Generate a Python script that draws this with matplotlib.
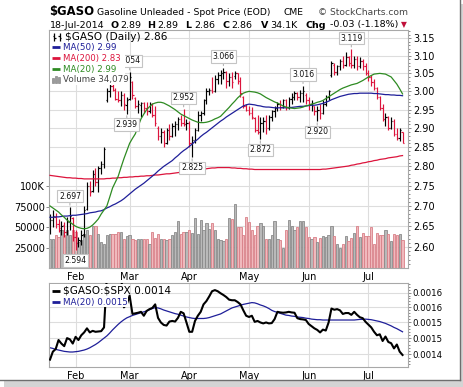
import numpy as np
import pandas as pd
import matplotlib
matplotlib.use("Agg")
import matplotlib.pyplot as plt
from matplotlib.patches import Rectangle
from matplotlib.lines import Line2D
from matplotlib.ticker import FixedLocator, FixedFormatter, NullFormatter

plt.rcParams['font.family'] = ['DejaVu Sans']

# ---------------- data ----------------
holidays = ["2014-02-17", "2014-04-18", "2014-05-26", "2014-07-04"]
dates = pd.bdate_range("2014-01-21", "2014-07-18")
dates = dates[~dates.isin(pd.to_datetime(holidays))]
month_labels = ["Feb", "Mar", "Apr", "May", "Jun", "Jul"]
month_nums = [2, 3, 4, 5, 6, 7]

opens = [2.650, 2.665, 2.672, 2.655, 2.642, 2.652, 2.635, 2.660, 2.670, 2.625,
         2.610, 2.615, 2.632, 2.692, 2.750, 2.738, 2.780, 2.760, 2.795, 2.805,
         2.975, 3.000, 3.015, 3.005, 2.980, 2.975, 2.990, 2.962, 2.978, 3.025,
         2.982, 2.960, 2.962, 2.968, 2.955, 2.945, 2.965, 2.935, 2.900, 2.880,
         2.890, 2.862, 2.895, 2.880, 2.905, 2.912, 2.925, 2.915, 2.910, 2.915,
         2.860, 2.870, 2.895, 2.935, 2.940, 2.975, 3.000, 3.005, 3.000, 3.035,
         3.045, 3.050, 3.055, 3.030, 3.040, 3.042, 3.050, 3.030, 2.985, 2.960,
         2.950, 2.940, 2.928, 2.895, 2.890, 2.915, 2.920, 2.900, 2.930, 2.945,
         2.955, 2.965, 2.958, 2.975, 2.955, 2.980, 2.985, 2.995, 2.985, 2.995,
         2.990, 2.975, 2.965, 2.960, 2.945, 2.950, 2.940, 2.965, 2.985, 3.045,
         3.075, 3.055, 3.070, 3.085, 3.075, 3.095, 3.080, 3.075, 3.090, 3.070,
         3.085, 3.070, 3.050, 3.040, 3.025, 3.010, 2.985, 2.955, 2.925, 2.930,
         2.900, 2.920, 2.885, 2.875, 2.890]
highs = [2.680, 2.690, 2.682, 2.668, 2.662, 2.660, 2.672, 2.697, 2.672, 2.640,
         2.625, 2.640, 2.700, 2.760, 2.762, 2.790, 2.795, 2.800, 2.815, 2.850,
         3.010, 3.030, 3.040, 3.010, 3.000, 3.000, 2.995, 2.985, 3.054, 3.030,
         2.985, 2.975, 2.970, 2.972, 2.970, 2.970, 2.968, 2.960, 2.905, 2.900,
         2.895, 2.900, 2.910, 2.915, 2.920, 2.930, 2.935, 2.952, 2.925, 2.920,
         2.880, 2.900, 2.945, 2.945, 2.980, 3.010, 3.010, 3.040, 3.045, 3.055,
         3.060, 3.066, 3.058, 3.050, 3.055, 3.058, 3.052, 3.040, 2.988, 2.965,
         2.960, 2.958, 2.930, 2.935, 2.930, 2.930, 2.935, 2.935, 2.950, 2.960,
         2.970, 2.975, 2.980, 2.978, 2.985, 2.995, 3.000, 2.998, 3.005, 3.016,
         2.995, 2.985, 2.975, 2.960, 2.960, 2.965, 2.975, 2.990, 3.005, 3.085,
         3.080, 3.075, 3.090, 3.100, 3.110, 3.100, 3.119, 3.100, 3.100, 3.095,
         3.090, 3.080, 3.060, 3.045, 3.035, 3.012, 2.988, 2.965, 2.940, 2.932,
         2.930, 2.925, 2.900, 2.900, 2.890]
lows = [2.632, 2.648, 2.645, 2.635, 2.628, 2.625, 2.630, 2.640, 2.615, 2.594,
        2.600, 2.605, 2.625, 2.690, 2.725, 2.735, 2.750, 2.735, 2.780, 2.795,
        2.970, 2.985, 3.000, 2.975, 2.970, 2.960, 2.950, 2.939, 2.975, 2.980,
        2.955, 2.940, 2.930, 2.940, 2.935, 2.942, 2.930, 2.905, 2.870, 2.862,
        2.850, 2.858, 2.870, 2.878, 2.880, 2.895, 2.905, 2.905, 2.895, 2.850,
        2.825, 2.860, 2.892, 2.920, 2.935, 2.965, 2.990, 2.995, 2.998, 3.020,
        3.020, 3.035, 3.010, 3.015, 3.010, 3.035, 3.020, 2.985, 2.955, 2.945,
        2.935, 2.925, 2.890, 2.885, 2.872, 2.890, 2.885, 2.895, 2.920, 2.930,
        2.945, 2.950, 2.955, 2.950, 2.952, 2.965, 2.975, 2.975, 2.970, 2.970,
        2.965, 2.950, 2.945, 2.935, 2.920, 2.925, 2.938, 2.960, 2.975, 3.040,
        3.045, 3.045, 3.060, 3.065, 3.072, 3.070, 3.065, 3.065, 3.060, 3.065,
        3.060, 3.045, 3.030, 3.015, 3.005, 2.980, 2.950, 2.920, 2.905, 2.895,
        2.898, 2.880, 2.870, 2.865, 2.860]
closes = [2.665, 2.675, 2.655, 2.645, 2.650, 2.635, 2.660, 2.675, 2.625, 2.610,
          2.618, 2.630, 2.690, 2.750, 2.735, 2.780, 2.760, 2.795, 2.805, 2.845,
          3.000, 3.015, 3.005, 2.980, 2.975, 2.990, 2.965, 2.975, 3.040, 2.990,
          2.960, 2.965, 2.968, 2.955, 2.945, 2.965, 2.935, 2.915, 2.880, 2.890,
          2.860, 2.895, 2.880, 2.905, 2.912, 2.925, 2.915, 2.910, 2.915, 2.860,
          2.870, 2.895, 2.935, 2.940, 2.975, 3.000, 3.005, 3.000, 3.035, 3.045,
          3.050, 3.055, 3.030, 3.040, 3.025, 3.050, 3.030, 2.995, 2.960, 2.950,
          2.940, 2.930, 2.895, 2.890, 2.915, 2.920, 2.900, 2.930, 2.945, 2.955,
          2.965, 2.958, 2.975, 2.955, 2.980, 2.985, 2.995, 2.985, 2.995, 3.000,
          2.975, 2.965, 2.968, 2.945, 2.950, 2.940, 2.965, 2.985, 3.000, 3.080,
          3.055, 3.070, 3.085, 3.075, 3.095, 3.080, 3.075, 3.090, 3.070, 3.085,
          3.070, 3.050, 3.040, 3.025, 3.010, 2.985, 2.955, 2.925, 2.930, 2.900,
          2.920, 2.885, 2.875, 2.895, 2.860]

ma20 = [2.700, 2.695, 2.690, 2.685, 2.678, 2.672, 2.665, 2.660, 2.655, 2.650,
        2.647, 2.645, 2.644, 2.645, 2.648, 2.653, 2.660, 2.668, 2.680, 2.690,
        2.700, 2.722, 2.745, 2.760, 2.775, 2.798, 2.820, 2.840, 2.860, 2.873,
        2.885, 2.905, 2.925, 2.938, 2.950, 2.958, 2.965, 2.968, 2.970, 2.970,
        2.968, 2.964, 2.960, 2.955, 2.950, 2.944, 2.938, 2.934, 2.930, 2.926,
        2.922, 2.919, 2.916, 2.915, 2.915, 2.916, 2.918, 2.921, 2.925, 2.928,
        2.932, 2.940, 2.948, 2.956, 2.965, 2.973, 2.982, 2.989, 2.995, 2.998,
        3.000, 2.999, 2.998, 2.996, 2.993, 2.988, 2.983, 2.979, 2.975, 2.971,
        2.968, 2.964, 2.960, 2.957, 2.955, 2.954, 2.953, 2.954, 2.955, 2.957,
        2.960, 2.962, 2.965, 2.967, 2.970, 2.972, 2.975, 2.980, 2.985, 2.990,
        2.995, 3.000, 3.005, 3.009, 3.012, 3.015, 3.018, 3.020, 3.022, 3.026,
        3.030, 3.035, 3.040, 3.044, 3.048, 3.049, 3.050, 3.049, 3.048, 3.044,
        3.040, 3.030, 3.020, 3.007, 2.993]
ma50 = [2.672, 2.672, 2.673, 2.673, 2.674, 2.675, 2.675, 2.676, 2.677, 2.677,
        2.678, 2.679, 2.680, 2.681, 2.683, 2.684, 2.685, 2.687, 2.688, 2.691,
        2.695, 2.698, 2.702, 2.705, 2.709, 2.713, 2.718, 2.724, 2.730, 2.736,
        2.742, 2.747, 2.752, 2.757, 2.763, 2.769, 2.775, 2.781, 2.788, 2.794,
        2.800, 2.805, 2.810, 2.815, 2.822, 2.828, 2.835, 2.841, 2.846, 2.852,
        2.858, 2.865, 2.871, 2.878, 2.884, 2.889, 2.895, 2.901, 2.907, 2.913,
        2.919, 2.924, 2.930, 2.935, 2.940, 2.945, 2.950, 2.955, 2.960, 2.963,
        2.965, 2.964, 2.963, 2.961, 2.960, 2.958, 2.957, 2.957, 2.956, 2.955,
        2.955, 2.955, 2.955, 2.955, 2.956, 2.956, 2.957, 2.958, 2.959, 2.959,
        2.960, 2.961, 2.962, 2.962, 2.963, 2.965, 2.967, 2.970, 2.973, 2.977,
        2.980, 2.983, 2.986, 2.988, 2.990, 2.992, 2.993, 2.994, 2.994, 2.995,
        2.995, 2.995, 2.995, 2.995, 2.994, 2.994, 2.993, 2.992, 2.991, 2.991,
        2.990, 2.990, 2.989, 2.989, 2.988]
ma200 = [2.777, 2.776, 2.775, 2.774, 2.773, 2.772, 2.771, 2.771, 2.770, 2.770,
         2.769, 2.769, 2.768, 2.768, 2.768, 2.768, 2.768, 2.768, 2.768, 2.768,
         2.769, 2.769, 2.770, 2.770, 2.771, 2.771, 2.772, 2.772, 2.773, 2.773,
         2.774, 2.774, 2.775, 2.775, 2.776, 2.776, 2.777, 2.778, 2.778, 2.779,
         2.780, 2.781, 2.781, 2.782, 2.783, 2.784, 2.785, 2.786, 2.787, 2.788,
         2.789, 2.790, 2.791, 2.792, 2.793, 2.794, 2.795, 2.796, 2.796, 2.797,
         2.797, 2.797, 2.797, 2.797, 2.796, 2.796, 2.795, 2.795, 2.794, 2.794,
         2.793, 2.793, 2.792, 2.792, 2.792, 2.792, 2.792, 2.792, 2.792, 2.792,
         2.792, 2.792, 2.792, 2.792, 2.792, 2.792, 2.792, 2.792, 2.792, 2.792,
         2.792, 2.792, 2.792, 2.792, 2.792, 2.792, 2.793, 2.793, 2.794, 2.795,
         2.796, 2.797, 2.798, 2.799, 2.800, 2.801, 2.803, 2.804, 2.806, 2.807,
         2.809, 2.810, 2.812, 2.813, 2.815, 2.816, 2.818, 2.819, 2.820, 2.822,
         2.823, 2.824, 2.825, 2.827, 2.828]

volume_k = [36, 36, 40, 38, 46, 40, 46, 40, 46, 44,
            32, 34, 42, 46, 40, 52, 52, 42, 32, 30,
            40, 42, 42, 42, 44, 44, 36, 39, 40, 36,
            34, 35, 36, 35, 35, 30, 44, 37, 42, 36,
            36, 34, 36, 40, 44, 57, 42, 44, 44, 46,
            43, 61, 42, 59, 46, 55, 48, 55, 46, 35,
            34, 33, 36, 61, 60, 79, 50, 50, 41, 62,
            56, 46, 41, 52, 55, 52, 35, 36, 41, 58,
            35, 34, 25, 46, 59, 51, 46, 50, 58, 58,
            50, 38, 35, 38, 32, 37, 39, 38, 41, 52,
            39, 29, 24, 29, 39, 33, 37, 43, 52, 38,
            43, 39, 39, 50, 30, 43, 41, 40, 46, 42,
            33, 42, 41, 42, 34.079]

ratio = [0.001384, 0.001408, 0.001416, 0.001444, 0.001433, 0.001425, 0.001450, 0.001446, 0.001433, 0.001454,
         0.001444, 0.001459, 0.001468, 0.001481, 0.001468, 0.001473, 0.001470, 0.001471, 0.001472, 0.001484,
         0.001660, 0.001680, 0.001680, 0.001670, 0.001670, 0.001660, 0.001550, 0.001560, 0.001590, 0.001528,
         0.001530, 0.001532, 0.001535, 0.001522, 0.001538, 0.001544, 0.001548, 0.001560, 0.001515, 0.001500,
         0.001492, 0.001490, 0.001503, 0.001505, 0.001503, 0.001515, 0.001535, 0.001530, 0.001500, 0.001470,
         0.001470, 0.001505, 0.001522, 0.001535, 0.001560, 0.001571, 0.001587, 0.001605, 0.001609, 0.001605,
         0.001598, 0.001592, 0.001585, 0.001576, 0.001574, 0.001574, 0.001568, 0.001560, 0.001540, 0.001522,
         0.001518, 0.001522, 0.001502, 0.001505, 0.001500, 0.001497, 0.001500, 0.001497, 0.001498, 0.001511,
         0.001535, 0.001533, 0.001532, 0.001533, 0.001535, 0.001533, 0.001532, 0.001514, 0.001511, 0.001510,
         0.001508, 0.001495, 0.001488, 0.001481, 0.001476, 0.001468, 0.001477, 0.001474, 0.001500, 0.001546,
         0.001542, 0.001544, 0.001540, 0.001528, 0.001531, 0.001531, 0.001525, 0.001535, 0.001525, 0.001517,
         0.001514, 0.001502, 0.001493, 0.001484, 0.001470, 0.001459, 0.001462, 0.001441, 0.001455, 0.001438,
         0.001434, 0.001418, 0.001430, 0.001408, 0.001398]
ratio_ma20 = [0.001420, 0.001418, 0.001415, 0.001413, 0.001411, 0.001409, 0.001408, 0.001407, 0.001407, 0.001408,
              0.001409, 0.001411, 0.001413, 0.001416, 0.001420, 0.001425, 0.001430, 0.001436, 0.001443, 0.001450,
              0.001457, 0.001466, 0.001476, 0.001485, 0.001494, 0.001502, 0.001509, 0.001515, 0.001519, 0.001523,
              0.001526, 0.001529, 0.001532, 0.001535, 0.001538, 0.001542, 0.001546, 0.001549, 0.001548, 0.001545,
              0.001541, 0.001538, 0.001535, 0.001532, 0.001529, 0.001527, 0.001524, 0.001521, 0.001518, 0.001516,
              0.001514, 0.001513, 0.001513, 0.001513, 0.001513, 0.001514, 0.001516, 0.001519, 0.001522, 0.001525,
              0.001528, 0.001533, 0.001538, 0.001543, 0.001548, 0.001551, 0.001554, 0.001557, 0.001560, 0.001562,
              0.001564, 0.001566, 0.001565, 0.001562, 0.001558, 0.001555, 0.001551, 0.001546, 0.001540, 0.001536,
              0.001533, 0.001530, 0.001527, 0.001524, 0.001523, 0.001521, 0.001520, 0.001518, 0.001517, 0.001516,
              0.001514, 0.001513, 0.001511, 0.001510, 0.001509, 0.001509, 0.001508, 0.001508, 0.001508, 0.001508,
              0.001508, 0.001508, 0.001508, 0.001508, 0.001508, 0.001508, 0.001508, 0.001508, 0.001509, 0.001510,
              0.001510, 0.001511, 0.001510, 0.001509, 0.001507, 0.001505, 0.001503, 0.001500, 0.001497, 0.001493,
              0.001489, 0.001484, 0.001480, 0.001475, 0.001470]

price_ticks = [2.60, 2.65, 2.70, 2.75, 2.80, 2.85, 2.90, 2.95, 3.00, 3.05, 3.10, 3.15]
volume_ticks = [25000, 50000, 75000, 100000]
volume_tick_labels = ["25000", "50000", "75000", "100K"]
ratio_ticks = [0.00140, 0.00145, 0.00150, 0.00155, 0.00160]
ratio_tick_labels = ["0.0014", "0.0015", "0.0015", "0.0016", "0.0016"]

# labelled swing points: (session index, which extreme)
swing_marks = [(7, "high"), (9, "low"), (28, "high"), (27, "low"), (47, "high"), (50, "low"),
               (61, "high"), (74, "low"), (89, "high"), (94, "low"), (106, "high")]

# ---------------- styles ----------------
W, H = 464, 387
RED = "#dc143c"
NAVY = "#1f1f99"
GREEN = "#2e8b22"
GRID = "#dddddd"
SPINE = "#a8a8a8"

fig = plt.figure(figsize=(W / 100, H / 100), dpi=100)
fig.patch.set_facecolor("white")


def fr(x0, y0, x1, y1):
    return [x0 / W, 1 - y1 / H, (x1 - x0) / W, (y1 - y0) / H]


def ftext(x, y, s, **kw):
    return fig.text(x / W, 1 - y / H, s, parse_math=False, **kw)


L, R = 49.3, 407.7
ax_v = fig.add_axes(fr(L, 30, R, 268))
ax = fig.add_axes(fr(L, 30, R, 268))
ax.patch.set_visible(False)
ax2 = fig.add_axes(fr(L, 283.3, R, 366.7))

n = len(closes)
x = np.arange(n)
month_pos = [int(np.argmax(dates.month == m)) for m in month_nums]
xlim = (-0.25, 125.82)

c = np.array(closes)
up = np.concatenate([[True], c[1:] >= c[:-1]])
bar_cols = np.where(up, "#000000", RED)

# ---- volume (under) ----
p_lo, p_hi = 2.5503, 3.1741
ax_v.set_xlim(*xlim)
ax_v.set_ylim(0, 291700)
for p in price_ticks:
    f = (np.log(p) - np.log(p_lo)) / (np.log(p_hi) - np.log(p_lo))
    ax_v.plot([0, 1], [f, f], transform=ax_v.transAxes, color=GRID, lw=0.8, zorder=0)
for mp in month_pos:
    ax_v.axvline(mp, color=GRID, lw=0.8, zorder=0)
vol = np.array(volume_k) * 1000
ax_v.bar(x, vol, width=0.8, color=np.where(up, "#b9b9b9", "#f0b9bd"),
         edgecolor=np.where(up, "#8a8a8a", "#d88088"), linewidth=0.6, zorder=1)
for s in ax_v.spines.values():
    s.set_visible(False)
ax_v.set_xticks([])
ax_v.yaxis.set_major_locator(FixedLocator(volume_ticks))
ax_v.yaxis.set_major_formatter(FixedFormatter(volume_tick_labels))
ax_v.tick_params(axis="y", left=True, right=False, labelleft=True, length=2.5, width=0.6,
                 color="#777777", labelsize=7, pad=0.8)

# ---- price (over) ----
ax.set_yscale("log")
ax.set_xlim(*xlim)
ax.set_ylim(p_lo, p_hi)
ax.vlines(x, lows, highs, colors=bar_cols, lw=0.85, zorder=2)
ax.hlines(opens, x - 0.45, x, colors=bar_cols, lw=0.85, zorder=2)
ax.hlines(closes, x, x + 0.45, colors=bar_cols, lw=0.85, zorder=2)
ax.plot(x, ma200, color=RED, lw=0.9, zorder=3)
ax.plot(x, ma50, color=NAVY, lw=0.9, zorder=3)
ax.plot(x, ma20, color=GREEN, lw=0.9, zorder=3)

for i, kind in swing_marks:
    v = highs[i] if kind == "high" else lows[i]
    off = 11 if kind == "high" else -11
    ax.annotate(f"{v:.3f}", xy=(i, v), xytext=(0, off), textcoords="offset pixels",
                ha="center", va="center", fontsize=5.6, color="#111111",
                bbox=dict(boxstyle="square,pad=0.22", fc="white", ec="#c4c4c4", lw=0.8),
                arrowprops=dict(arrowstyle="-", color="#b4b4b4", lw=0.8, shrinkA=0, shrinkB=1.5),
                zorder=6)

ax.yaxis.set_major_locator(FixedLocator(price_ticks))
ax.yaxis.set_major_formatter(FixedFormatter([f"{t:.2f}" for t in price_ticks]))
ax.yaxis.set_minor_locator(FixedLocator(np.round(np.arange(2.56, 3.175, 0.01), 2)))
ax.yaxis.set_minor_formatter(NullFormatter())
ax.tick_params(axis="y", which="both", left=False, right=True, labelleft=False, labelright=True,
               color="#777777", width=0.6)
ax.tick_params(axis="y", which="major", length=2.5, labelsize=7, pad=1.2)
ax.tick_params(axis="y", which="minor", length=1.5)
ax.set_xticks(month_pos)
ax.set_xticklabels(month_labels)
ax.tick_params(axis="x", length=0, labelsize=7, pad=3)
for s in ax.spines.values():
    s.set_color(SPINE)
    s.set_linewidth(0.8)

# ---- ratio panel ----
ax2.set_yscale("log")
ax2.set_xlim(*xlim)
ax2.set_ylim(0.0013629, 0.0016329)
for t in ratio_ticks:
    ax2.axhline(t, color=GRID, lw=0.8, zorder=0)
for mp in month_pos:
    ax2.axvline(mp, color=GRID, lw=0.8, zorder=0)
ax2.plot(x, ratio_ma20, color=NAVY, lw=0.9, zorder=2)
ax2.plot(x, ratio, color="black", lw=1.5, zorder=3)
ax2.yaxis.set_major_locator(FixedLocator(ratio_ticks))
ax2.yaxis.set_major_formatter(FixedFormatter(ratio_tick_labels))
ax2.yaxis.set_minor_locator(FixedLocator(np.arange(0.00137, 0.00164, 0.00001)))
ax2.yaxis.set_minor_formatter(NullFormatter())
ax2.tick_params(axis="y", which="both", left=False, right=True, labelleft=False, labelright=True,
                color="#777777", width=0.6)
ax2.tick_params(axis="y", which="major", length=2.5, labelsize=6.2, pad=1.2)
ax2.tick_params(axis="y", which="minor", length=1.5)
ax2.set_xticks(month_pos)
ax2.set_xticklabels(month_labels)
ax2.tick_params(axis="x", length=0, labelsize=7, pad=3)
for s in ax2.spines.values():
    s.set_color(SPINE)
    s.set_linewidth(0.8)

# ---- legends (drawn over the panels) ----
fig.add_artist(Rectangle((49.9 / W, 1 - 84.5 / H), (125 - 49.9) / W, (84.5 - 30.6) / H,
                         transform=fig.transFigure, fc="white", ec="none", zorder=3))
fig.add_artist(Rectangle((49.9 / W, 1 - 307 / H), (128 - 49.9) / W, (307 - 283.8) / H,
                         transform=fig.transFigure, fc="white", ec="none", zorder=3))


def fline(x0, x1, y, color, lw):
    fig.add_artist(Line2D([x0 / W, x1 / W], [1 - y / H, 1 - y / H], transform=fig.transFigure,
                          color=color, lw=lw, solid_capstyle="butt", zorder=4))


def fvline(xp, y0, y1, color, lw):
    fig.add_artist(Line2D([xp / W, xp / W], [1 - y0 / H, 1 - y1 / H], transform=fig.transFigure,
                          color=color, lw=lw, solid_capstyle="butt", zorder=4))


# ohlc icon
for cx in (54.5, 59.5):
    fvline(cx, 33, 41, "black", 0.9)
    fline(cx - 1.6, cx, 36, "black", 0.9)
    fline(cx, cx + 1.6, 38, "black", 0.9)
ftext(65, 37, "$GASO (Daily) 2.86", fontsize=7.6, va="center", zorder=5)
fline(52.5, 60.5, 47.3, NAVY, 2)
ftext(62.7, 47.5, "MA(50) 2.99", fontsize=6.3, va="center", color=NAVY, zorder=5)
fline(52.5, 60.5, 58.3, RED, 2)
ftext(62.7, 58.5, "MA(200) 2.83", fontsize=6.1, va="center", color=RED, zorder=5)
fline(52.5, 60.5, 69.3, GREEN, 2)
ftext(62.7, 69.5, "MA(20) 2.99", fontsize=6.3, va="center", color=GREEN, zorder=5)
for bx, bh in ((52.5, 5), (55.2, 7), (57.9, 6)):
    fig.add_artist(Rectangle((bx / W, 1 - 83 / H), 2.0 / W, bh / H, transform=fig.transFigure,
                             fc="#9a9a9a", ec="#777777", lw=0.4, zorder=4))
ftext(62.7, 79.5, "Volume 34,079", fontsize=6.3, va="center", color="#444444", zorder=5)

fline(52, 60.5, 290.7, "black", 2)
ftext(63.3, 290.9, "$GASO:$SPX 0.0014", fontsize=7.6, va="center", zorder=5)
fline(52, 60.5, 302.3, NAVY, 2)
ftext(63.3, 302.5, "MA(20) 0.0015", fontsize=6.3, va="center", color=NAVY, zorder=5)

# ---- header ----
ftext(49, 15.5, "$GASO", fontsize=8.4, fontweight="bold", va="baseline")
ftext(97, 15, "Gasoline Unleaded - Spot Price (EOD)", fontsize=6.7, va="baseline")
ftext(284, 15, "CME", fontsize=6.6, va="baseline")
ftext(318, 15, "\u00a9 StockCharts.com", fontsize=6.6, va="baseline", color="#444444")
header2 = [(50, "18-Jul-2014", "normal"), (110.5, "O", "bold"), (120.5, "2.89", "normal"),
           (147.5, "H", "bold"), (157.5, "2.89", "normal"), (185.5, "L", "bold"),
           (194.3, "2.86", "normal"), (222.5, "C", "bold"), (231.7, "2.86", "normal"),
           (260.5, "V", "bold"), (270.3, "34.1K", "normal"), (305, "Chg", "bold"),
           (330, "-0.03 (-1.18%)", "normal")]
for hx, hs, hw in header2:
    ftext(hx, 27.5, hs, fontsize=6.8, fontweight=hw, va="baseline")
ftext(400.5, 27.5, "\u25bc", fontsize=5.5, va="baseline", color="#c0103a")

# ---- image frame / shadow ----
fig.add_artist(Rectangle((461 / W, 0), 3 / W, 1 - 4 / H, transform=fig.transFigure,
                         fc="#d4d4d4", ec="none", zorder=6))
fig.add_artist(Rectangle((4 / W, 0), 460 / W, (387 - 380) / H, transform=fig.transFigure,
                         fc="#d4d4d4", ec="none", zorder=6))
fig.add_artist(Line2D([460.5 / W, 460.5 / W], [1, 1 - 379.5 / H], transform=fig.transFigure,
                      color="#6e6e6e", lw=1.0, zorder=7))
fig.add_artist(Line2D([0, 460.5 / W], [1 - 379.5 / H, 1 - 379.5 / H], transform=fig.transFigure,
                      color="#6e6e6e", lw=1.0, zorder=7))

fig.savefig("out.png", dpi=100, facecolor="white")
